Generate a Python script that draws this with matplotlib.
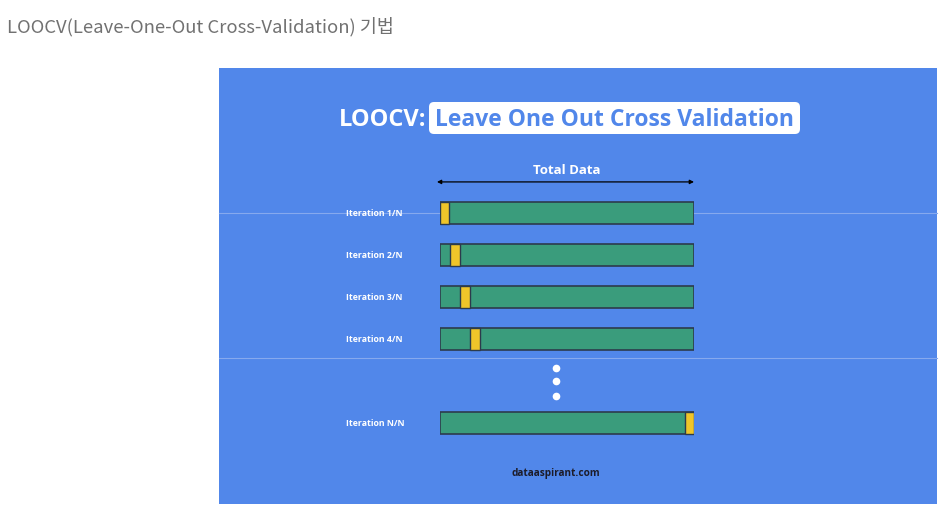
import matplotlib
matplotlib.use("Agg")
import matplotlib.pyplot as plt
from matplotlib.patches import Rectangle, FancyBboxPatch
import matplotlib.transforms as mtransforms

# ---- data ----
header = "LOOCV(Leave-One-Out Cross-Validation) 기법"
title_left = "LOOCV:"
title_right = "Leave One Out Cross Validation"
axis_label = "Total Data"
footer = "dataaspirant.com"
n_folds = 25
iteration_labels = ["Iteration 1/N", "Iteration 2/N", "Iteration 3/N", "Iteration 4/N", "Iteration N/N"]
row_positions = [0, 1, 2, 3, 5]
held_out_fold = [0, 1, 2, 3, 24]
ellipsis_rows = [3.69, 4.0, 4.36]

# ---- style ----
W, H = 951, 529
BLUE = "#5187EA"
GREEN = "#3A9C7C"
YELLOW = "#EFC52A"
EDGE = "#2C3B4C"

fig = plt.figure(figsize=(W / 100, H / 100), dpi=100, facecolor="white")

# overlay axes in pixel units for layout
ax = fig.add_axes([0, 0, 1, 1])
ax.set_xlim(0, W)
ax.set_ylim(H, 0)
ax.axis("off")

ax.add_patch(Rectangle((219, 68), 718, 436, facecolor=BLUE, edgecolor="none"))
for yl in (213, 358):
    ax.plot([219, 937], [yl, yl], color="#86A9EE", lw=0.8, zorder=1)

fig.text(7 / W, 1 - 27 / H, header, fontsize=13.3, color="#717171",
         family=["Noto Sans CJK KR", "DejaVu Sans"], va="center", ha="left")

ax.text(426, 119.5, title_left, fontsize=17, color="white", fontweight="bold",
        family="Open Sans", ha="right", va="center")
ax.add_patch(FancyBboxPatch((432, 105), 365, 26, boxstyle="round,pad=3,rounding_size=5",
                            facecolor="white", edgecolor="none"))
ax.text(614.5, 119.5, title_right, fontsize=16.5, color=BLUE, fontweight="bold",
        family="Open Sans", ha="center", va="center")

ax.text(567, 170.5, axis_label, fontsize=9.5, color="white", fontweight="bold",
        family="Open Sans", ha="center", va="center")
ax.text(555.5, 473.5, footer, fontsize=7.2, color="#1C1C2A", fontweight="bold",
        family="Open Sans", ha="center", va="center")

# bar axes: x in fold units, y in iteration rows
x0, x1 = 440, 694
y_top, y_bot = 192, 444
bx = fig.add_axes([x0 / W, 1 - y_bot / H, (x1 - x0) / W, (y_bot - y_top) / H])
bx.set_xlim(0, n_folds)
bx.set_ylim(5.5, -0.5)
bx.axis("off")
bx.patch.set_alpha(0)

bar_h = 0.52
for row, k in zip(row_positions, held_out_fold):
    bx.barh(row, n_folds, left=0, height=bar_h, color=GREEN, edgecolor=EDGE, linewidth=1.2, zorder=2)
    bx.barh(row, 0.92, left=k + (0.08 if k == n_folds - 1 else 0), height=bar_h,
            color=YELLOW, edgecolor=EDGE, linewidth=1.0, zorder=3)

trans = mtransforms.blended_transform_factory(ax.transData, bx.transData)
for row, lab in zip(row_positions, iteration_labels):
    ax.text(346, row + 0.02, lab, transform=trans, fontsize=6.3, color="white", fontweight="bold",
            family="Open Sans", ha="left", va="center")

for r in ellipsis_rows:
    bx.plot(n_folds * (556 - x0) / (x1 - x0), r, "o", color="white", markersize=5.5,
            markeredgewidth=0, clip_on=False)

bx.annotate("", xy=(-0.3, -0.74), xytext=(n_folds, -0.74),
            arrowprops=dict(arrowstyle="<|-|>", color="black", lw=0.9,
                            mutation_scale=6, shrinkA=0, shrinkB=0),
            annotation_clip=False)

fig.savefig("out.png", dpi=100, facecolor="white")
